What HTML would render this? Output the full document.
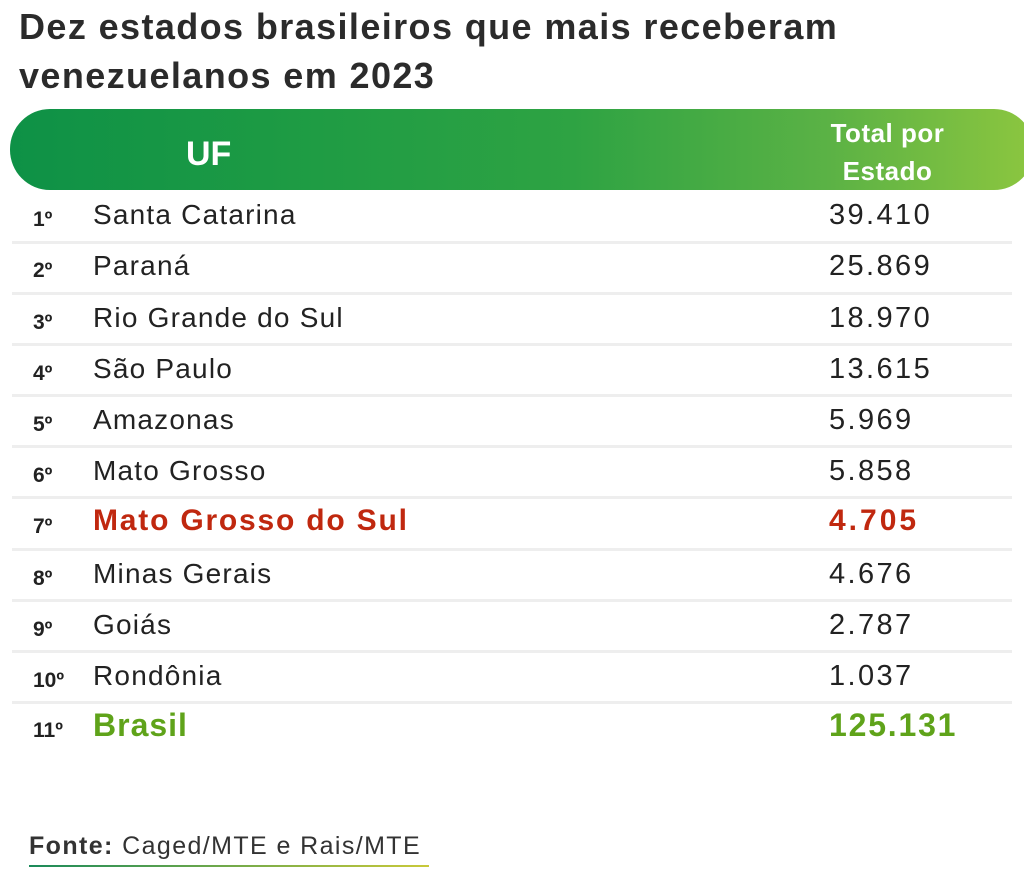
<!DOCTYPE html>
<html><head><meta charset="utf-8"><style>
body{margin:0;width:1024px;height:892px;background:#fff;position:relative;overflow:hidden;font-family:"Liberation Sans",sans-serif;color:#222}
.t{position:absolute;left:19px;font-weight:bold;font-size:36px;color:#2b2b2b;letter-spacing:1.4px}
.hdr{position:absolute;left:10px;top:109px;width:1024px;height:81px;border-radius:40px;background:linear-gradient(90deg,#0e9146 0%,#1f9c44 30%,#2ea343 55%,#5bb245 80%,#8cc63f 100%)}
.uf{position:absolute;left:186px;top:135px;color:#fff;font-weight:bold;font-size:34px}
.tp{position:absolute;left:800px;top:114px;width:175px;text-align:center;color:#fff;font-weight:bold;font-size:26px;line-height:38px;letter-spacing:0.5px}
.r{position:absolute;left:0;width:1024px;height:51px}
.r .k{position:absolute;left:33px;top:15px;font-weight:bold;font-size:21px}
.r .n{position:absolute;left:93px;top:6px;font-size:28px;letter-spacing:1.2px}
.r .v{position:absolute;left:829px;top:6px;font-size:29px;letter-spacing:2.4px}
.line{position:absolute;left:12px;width:1000px;height:3px;background:#eeeeee}
.red{color:#c0280f;font-weight:bold;font-size:30px!important;top:4px!important;letter-spacing:1.8px!important}
.v.red{letter-spacing:3px!important}
.grn{color:#5fa31a;font-weight:bold;font-size:32px!important;top:3px!important;letter-spacing:1px!important}
.v.grn{letter-spacing:1.8px!important}
.f{position:absolute;left:29px;top:832px;font-size:25px;color:#333;letter-spacing:1.4px}
.ul{position:absolute;left:29px;top:865px;width:400px;height:2px;background:linear-gradient(90deg,#1b8a5a,#c9c93a)}
</style></head><body>
<div class="t" style="top:6px">Dez estados brasileiros que mais receberam</div>
<div class="t" style="top:55px">venezuelanos em 2023</div>
<div class="hdr"></div>
<div class="uf">UF</div>
<div class="tp">Total por<br>Estado</div>

<div class="r" style="top:193px"><span class="k">1º</span><span class="n">Santa Catarina</span><span class="v">39.410</span></div>
<div class="line" style="top:241px"></div>
<div class="r" style="top:244px"><span class="k">2º</span><span class="n">Paraná</span><span class="v">25.869</span></div>
<div class="line" style="top:292px"></div>
<div class="r" style="top:296px"><span class="k">3º</span><span class="n">Rio Grande do Sul</span><span class="v">18.970</span></div>
<div class="line" style="top:343px"></div>
<div class="r" style="top:347px"><span class="k">4º</span><span class="n">São Paulo</span><span class="v">13.615</span></div>
<div class="line" style="top:394px"></div>
<div class="r" style="top:398px"><span class="k">5º</span><span class="n">Amazonas</span><span class="v">5.969</span></div>
<div class="line" style="top:445px"></div>
<div class="r" style="top:449px"><span class="k">6º</span><span class="n">Mato Grosso</span><span class="v">5.858</span></div>
<div class="line" style="top:496px"></div>
<div class="r" style="top:500px"><span class="k">7º</span><span class="n red">Mato Grosso do Sul</span><span class="v red">4.705</span></div>
<div class="line" style="top:548px"></div>
<div class="r" style="top:552px"><span class="k">8º</span><span class="n">Minas Gerais</span><span class="v">4.676</span></div>
<div class="line" style="top:599px"></div>
<div class="r" style="top:603px"><span class="k">9º</span><span class="n">Goiás</span><span class="v">2.787</span></div>
<div class="line" style="top:650px"></div>
<div class="r" style="top:654px"><span class="k">10º</span><span class="n">Rondônia</span><span class="v">1.037</span></div>
<div class="line" style="top:701px"></div>
<div class="r" style="top:704px"><span class="k">11º</span><span class="n grn">Brasil</span><span class="v grn">125.131</span></div>

<div class="f"><b>Fonte:</b> Caged/MTE e Rais/MTE</div>
<div class="ul"></div>
</body></html>
